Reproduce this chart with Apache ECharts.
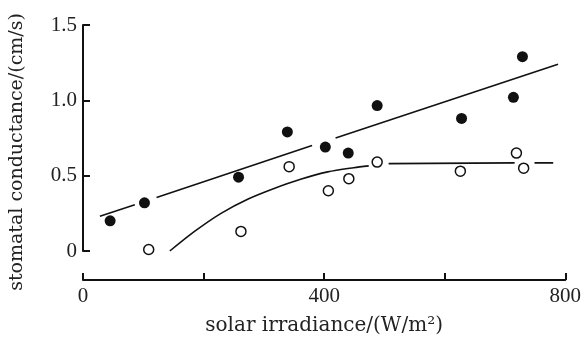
<!DOCTYPE html>
<html>
<head>
<meta charset="utf-8">
<script src="https://cdn.jsdelivr.net/npm/echarts@6/dist/echarts.min.js"></script>
<style>html,body{margin:0;padding:0;background:#fff}#c{width:584px;height:341px}</style>
</head>
<body>
<div id="c"></div>
<script>
// Data
const filledX = [45, 102, 258, 339, 402, 440, 488, 628, 714, 729];
const filledY = [0.20, 0.32, 0.49, 0.79, 0.69, 0.65, 0.965, 0.88, 1.02, 1.29];
const openX = [109, 262, 342, 407, 441, 488, 626, 719, 731];
const openY = [0.01, 0.13, 0.56, 0.40, 0.48, 0.59, 0.53, 0.65, 0.55];
// fitted straight line (drawn with gaps around markers)
const fitSegments = [
  [[28, 0.23], [86, 0.307]],
  [[122, 0.355], [380, 0.70]],
  [[419, 0.75], [788, 1.24]]
];
// fitted saturating curve for open symbols
const curveSegments = [
  [[144, 0.0], [185, 0.13], [229, 0.25], [274, 0.345], [317, 0.415], [361, 0.476], [406, 0.525], [449, 0.553], [474, 0.565]],
  [[507, 0.58], [716, 0.585]],
  [[749, 0.585], [780, 0.585]]
];
const xTickLabels = ['0', '400', '800'];
const yTickLabels = ['0', '0.5', '1.0', '1.5'];
const xTitle = 'solar irradiance/(W/m²)';
const yTitle = 'stomatal conductance/(cm/s)';

const TITLE_FONT = 'DejaVu Serif';
const TICK_FONT = 'Liberation Serif';
const chart = echarts.init(document.getElementById('c'), null, {renderer: 'canvas'});
const series = [];
fitSegments.forEach(seg => series.push({
  type: 'line', data: seg, symbol: 'none', smooth: false,
  lineStyle: {color: '#111', width: 1.6}, silent: true, z: 2
}));
curveSegments.forEach(seg => series.push({
  type: 'line', data: seg, symbol: 'none', smooth: 0.3,
  lineStyle: {color: '#111', width: 1.6}, silent: true, z: 2
}));
series.push({
  type: 'scatter', data: filledX.map((x, i) => [x, filledY[i]]),
  symbol: 'circle', symbolSize: 11,
  itemStyle: {color: '#111', opacity: 1}, z: 3
});
series.push({
  type: 'scatter', data: openX.map((x, i) => [x, openY[i]]),
  symbol: 'circle', symbolSize: 10,
  itemStyle: {color: '#fff', borderColor: '#111', borderWidth: 1.5, opacity: 1}, z: 3
});

chart.setOption({
  backgroundColor: '#fff',
  animation: false,
  grid: {left: 81, top: 25, width: 485, height: 227, containLabel: false},
  xAxis: {
    type: 'value', min: 0, max: 800, interval: 200, offset: 29,
    axisLine: {show: true, onZero: false, lineStyle: {color: '#111', width: 2}},
    axisTick: {show: true, inside: true, length: 7, lineStyle: {color: '#111', width: 2}},
    axisLabel: {
      margin: 6, color: '#222', fontFamily: TICK_FONT, fontSize: 21,
      formatter: v => xTickLabels.includes(String(v)) ? String(v) : ''
    },
    splitLine: {show: false},
    name: xTitle, nameLocation: 'middle', nameGap: 36,
    nameTextStyle: {color: '#222', fontFamily: TITLE_FONT, fontSize: 20}
  },
  yAxis: {
    type: 'value', min: 0, max: 1.5, interval: 0.5,
    axisLine: {show: true, onZero: false, lineStyle: {color: '#111', width: 2}},
    axisTick: {show: true, inside: true, length: 7, lineStyle: {color: '#111', width: 2}},
    axisLabel: {
      margin: 6, color: '#222', fontFamily: TICK_FONT, fontSize: 21,
      formatter: v => yTickLabels[Math.round(v / 0.5)]
    },
    splitLine: {show: false},
    name: yTitle, nameLocation: 'middle', nameGap: 56,
    nameTextStyle: {color: '#222', fontFamily: TITLE_FONT, fontSize: 19, padding: [0, 28, 0, 0]}
  },
  series: series
});
</script>
</body>
</html>
